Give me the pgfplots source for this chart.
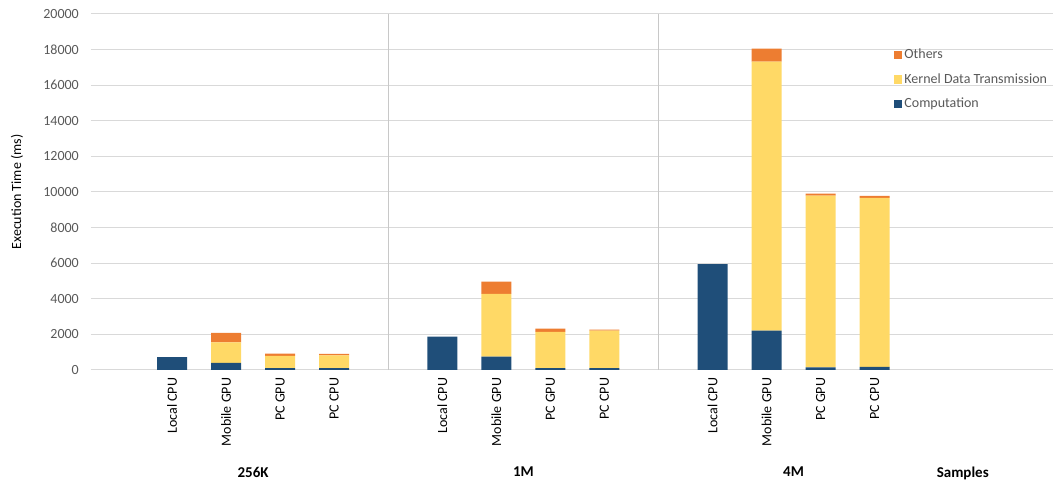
\documentclass[border=0pt]{standalone}
\usepackage{pgfplots}
\pgfplotsset{compat=1.18}
\usepackage{pgfplotstable}
\usepackage{fontspec}
\setmainfont{Carlito}
\definecolor{comp}{HTML}{1F4E79}
\definecolor{kern}{HTML}{FFD966}
\definecolor{oth}{HTML}{ED7D31}
\definecolor{txtgray}{HTML}{595959}
\definecolor{gridgray}{HTML}{D9D9D9}
\definecolor{sepgray}{HTML}{C8C8C8}

\pgfplotstableread{
x  comp  kern  oth
1  730   0     0
2  400   1150  530
3  100   690   130
4  100   720   80
6  1880  0     0
7  750   3530  690
8  110   2030  180
9  110   2100  60
11 5950  0     0
12 2210  15120 730
13 150   9650  110
14 170   9500  110
}\data

\newcommand{\fs}{\fontsize{9.8}{11.5}\selectfont}
\newcommand{\fb}{\fontsize{10.5}{12}\selectfont\bfseries}

\begin{document}
\begin{tikzpicture}
\begin{axis}[
  scale only axis,
  width=673.4pt, height=249.2pt,
  xmin=-0.5, xmax=17.3, ymin=0, ymax=20000,
  ybar stacked, bar width=21pt,
  ytick={0,2000,...,20000},
  ymajorgrids, grid style={gridgray, line width=0.7pt},
  axis y line*=left, axis x line*=bottom,
  y axis line style={draw=none},
  x axis line style={gridgray, line width=0.7pt, -},
  major tick length=0pt,
  xtick={1,2,3,4,6,7,8,9,11,12,13,14},
  xticklabels={Local CPU,Mobile GPU,PC GPU,PC CPU,Local CPU,Mobile GPU,PC GPU,PC CPU,Local CPU,Mobile GPU,PC GPU,PC CPU},
  xticklabel style={rotate=90, anchor=east, font=\fs, text=black, xshift=-2pt},
  yticklabel style={font=\fs, text=txtgray, xshift=-5pt},
  scaled y ticks=false,
  /pgf/number format/1000 sep={},
  /pgf/number format/assume math mode=true,
  extra x ticks={5,10},
  extra x tick labels={},
  extra x tick style={grid=major, major grid style={sepgray, line width=0.7pt}},
  ylabel={Execution Time (ms)},
  ylabel style={at={(axis description cs:-0.077,0.5)}, anchor=center, font=\fs, text=black},
  reverse legend,
  legend style={at={(axis description cs:0.834,0.91)}, anchor=north west, draw=none, fill=none,
    font=\fs, text=txtgray, row sep=4.8pt, inner sep=0pt,
    /tikz/every even column/.append style={column sep=2pt}},
  legend cell align=left,
  clip=false,
]
\addplot[fill=comp, draw=none, legend image code/.code={\fill[comp] (0pt,-2.9pt) rectangle (5.6pt,2.9pt);}] table[x=x,y=comp]{\data};
\addlegendentry{Computation}
\addplot[fill=kern, draw=none, legend image code/.code={\fill[kern] (0pt,-2.9pt) rectangle (5.6pt,2.9pt);}] table[x=x,y=kern]{\data};
\addlegendentry{Kernel Data Transmission}
\addplot[fill=oth, draw=none, legend image code/.code={\fill[oth] (0pt,-2.9pt) rectangle (5.6pt,2.9pt);}] table[x=x,y=oth]{\data};
\addlegendentry{Others}
\node[font=\fb, yshift=-71.4pt] at (axis cs:2.5,0) {256K};
\node[font=\fb, yshift=-71.4pt] at (axis cs:7.5,0) {1M};
\node[font=\fb, yshift=-71.4pt] at (axis cs:12.5,0) {4M};
\node[font=\fb, yshift=-72.5pt] at (axis cs:15.63,0) {Samples};
\end{axis}
\path ([xshift=-63.7pt,yshift=-79.8pt]current axis.south west) rectangle ([xshift=0.7pt,yshift=9.8pt]current axis.north east);
\end{tikzpicture}
\end{document}
